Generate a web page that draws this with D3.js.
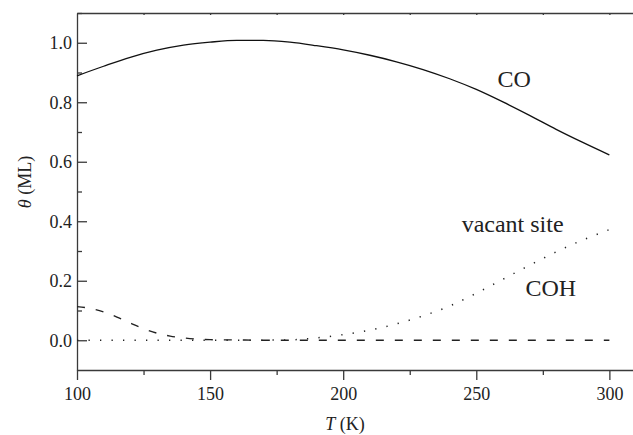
<!DOCTYPE html>
<html>
<head>
<meta charset="utf-8">
<script src="https://cdn.jsdelivr.net/npm/d3@7"></script>
<style>
  html, body { margin: 0; padding: 0; background: #fff; }
  svg { display: block; }
  svg text { font-family: "Liberation Serif", "Times New Roman", Times, "DejaVu Serif", serif !important; fill: #222; }
</style>
</head>
<body>
<svg id="chart" width="633" height="435"></svg>
<script>
// Temperature grid (K)
const temperatureCO = [100, 110, 120, 130, 140, 150, 160, 170, 180, 190, 200, 210, 220, 230, 240, 250, 260, 270, 280, 290, 300];
// CO coverage (ML)
const coverageCO = [0.889, 0.921, 0.951, 0.975, 0.992, 1.002, 1.008, 1.008, 1.002, 0.990, 0.976, 0.958, 0.936, 0.910, 0.879, 0.843, 0.801, 0.756, 0.709, 0.665, 0.623];

const temperatureCOH = [100, 105, 110, 115, 120, 125, 130, 135, 140, 145, 150, 160, 170, 200, 250, 300];
// COH coverage (ML)
const coverageCOH = [0.113, 0.107, 0.095, 0.078, 0.058, 0.039, 0.024, 0.014, 0.008, 0.004, 0.002, 0.001, 0.0, 0.0, 0.0, 0.0];

const temperatureVac = [100, 150, 180, 185, 190, 200, 210, 220, 230, 240, 250, 260, 270, 280, 290, 300];
// Vacant-site fraction (ML)
const coverageVac = [0.0, 0.0, 0.001, 0.004, 0.008, 0.019, 0.034, 0.055, 0.082, 0.115, 0.158, 0.205, 0.252, 0.297, 0.337, 0.372];

const xMajorTicks = [100, 150, 200, 250, 300];
const xMinorTicks = [125, 175, 225, 275];
const xTopTicks = [125, 150, 175, 200, 225, 250, 275, 300];
const yMajorTicks = [0.0, 0.2, 0.4, 0.6, 0.8, 1.0];
const yMinorTicks = [0.1, 0.3, 0.5, 0.7, 0.9, 1.1];

const labels = [
  { text: "CO", t: 258, v: 0.85 },
  { text: "vacant site", t: 244.5, v: 0.363 },
  { text: "COH", t: 268.5, v: 0.148 }
];

const svg = d3.select("#chart");
const plotLeft = 77, plotRight = 636, plotTop = 13, plotBottom = 370;

const x = d3.scaleLinear().domain([100, 310]).range([plotLeft, plotRight]);
const y = d3.scaleLinear().domain([-0.1, 1.1]).range([plotBottom, plotTop]);

const axisColor = "#3a3a3a";

function styleAxis(g) {
  g.attr("font-family", null).attr("font-size", null);
  g.selectAll("path.domain").attr("stroke", axisColor).attr("stroke-width", 1.3);
  g.selectAll(".tick line").attr("stroke", axisColor).attr("stroke-width", 1.3);
  g.selectAll(".tick text")
    .attr("font-size", 18)
    .attr("fill", "#222");
}

// Bottom axis: major + minor ticks pointing outward
svg.append("g")
  .attr("transform", `translate(0,${plotBottom})`)
  .call(d3.axisBottom(x).tickValues(xMajorTicks).tickFormat(d3.format("d"))
    .tickSizeInner(10).tickSizeOuter(0).tickPadding(7))
  .call(styleAxis);
svg.append("g")
  .attr("transform", `translate(0,${plotBottom})`)
  .call(d3.axisBottom(x).tickValues(xMinorTicks).tickFormat("")
    .tickSizeInner(5).tickSizeOuter(0))
  .call(g => g.select("path.domain").remove())
  .call(styleAxis);

// Top axis: short inward ticks
svg.append("g")
  .attr("transform", `translate(0,${plotTop})`)
  .call(d3.axisTop(x).tickValues(xTopTicks).tickFormat("")
    .tickSizeInner(-2).tickSizeOuter(0))
  .call(styleAxis);

// Left axis: ticks pointing inward
svg.append("g")
  .attr("transform", `translate(${plotLeft},0)`)
  .call(d3.axisLeft(y).tickValues(yMajorTicks).tickFormat(d3.format(".1f"))
    .tickSizeInner(-10).tickSizeOuter(0).tickPadding(5))
  .call(styleAxis);
svg.append("g")
  .attr("transform", `translate(${plotLeft},0)`)
  .call(d3.axisLeft(y).tickValues(yMinorTicks).tickFormat("")
    .tickSizeInner(-5).tickSizeOuter(0))
  .call(g => g.select("path.domain").remove())
  .call(styleAxis);

// Axis titles
svg.append("text")
  .attr("x", 345).attr("y", 430)
  .attr("text-anchor", "middle")
  .attr("font-size", 18)
  .html('<tspan font-style="italic">T</tspan> (K)');

svg.append("text")
  .attr("transform", "translate(31,182) rotate(-90)")
  .attr("text-anchor", "middle")
  .attr("font-size", 18)
  .html('<tspan font-style="italic">θ</tspan> (ML)');

// Curves
const line = d3.line().x(d => x(d[0])).y(d => y(d[1])).curve(d3.curveMonotoneX);

svg.append("path")
  .datum(d3.zip(temperatureCO, coverageCO))
  .attr("d", line)
  .attr("fill", "none").attr("stroke", "#111").attr("stroke-width", 1.3);

svg.append("path")
  .datum(d3.zip(temperatureCOH, coverageCOH))
  .attr("d", line)
  .attr("fill", "none").attr("stroke", "#222").attr("stroke-width", 1.4)
  .attr("stroke-dasharray", "8,11");

svg.append("path")
  .datum(d3.zip(temperatureVac, coverageVac))
  .attr("d", line)
  .attr("fill", "none").attr("stroke", "#222").attr("stroke-width", 1.5)
  .attr("stroke-dasharray", "1.3,10.2");

// Curve labels
svg.selectAll("text.curve-label")
  .data(labels)
  .join("text")
  .attr("class", "curve-label")
  .attr("x", d => x(d.t))
  .attr("y", d => y(d.v))
  .attr("font-size", 24)
  .text(d => d.text);
</script>
</body>
</html>
